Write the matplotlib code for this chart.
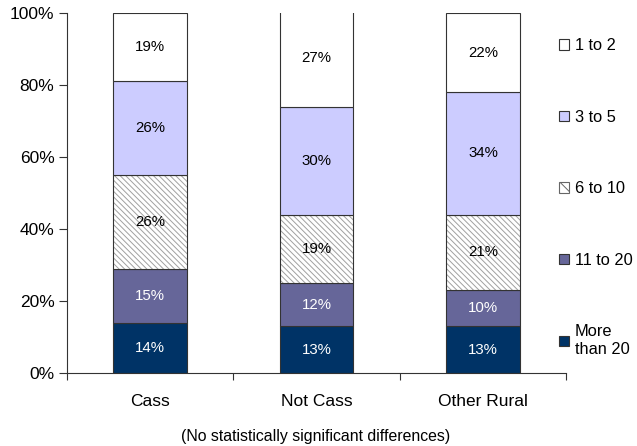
import matplotlib
matplotlib.use("Agg")
import matplotlib.pyplot as plt
from matplotlib.ticker import FixedLocator, PercentFormatter
import numpy as np

plt.rcParams['font.family'] = ['Liberation Sans', 'DejaVu Sans']
plt.rcParams['hatch.linewidth'] = 0.7

# share of respondents by group size, bottom segment first
groups = ["Cass", "Not Cass", "Other Rural"]
sizes = ["More\nthan 20", "11 to 20", "6 to 10", "3 to 5", "1 to 2"]
more_than_20 = [14, 13, 13]
from_11_to_20 = [15, 12, 10]
from_6_to_10 = [26, 19, 21]
from_3_to_5 = [26, 30, 34]
from_1_to_2 = [19, 27, 22]

series = [more_than_20, from_11_to_20, from_6_to_10, from_3_to_5, from_1_to_2]
fills = ["#003366", "#666699", "white", "#ccccff", "white"]
text_colors = ["white", "white", "black", "black", "black"]
hatch = "\\" * 6

fig = plt.figure(figsize=(6.37, 4.46), dpi=100)
ax = fig.add_axes([0.105, 0.1637, 0.784, 0.8073])

x = np.arange(len(groups))
width = 0.44
bottom = np.zeros(len(groups))
handles = []
for i, vals in enumerate(series):
    vals = np.array(vals, dtype=float)
    if i == 2:
        # hatched segment: gray stripes, then a dark outline on top
        ax.bar(x, vals, width, bottom=bottom, color="white", hatch=hatch,
               edgecolor="#a0a0a0", linewidth=0)
        ax.bar(x, vals, width, bottom=bottom, fill=False,
               edgecolor="#333333", linewidth=0.8)
        handles.append(plt.Rectangle((0, 0), 1, 1, facecolor="white",
                                     hatch="\\\\\\", edgecolor="#666666", linewidth=0.8))
    else:
        ax.bar(x, vals, width, bottom=bottom, color=fills[i],
               edgecolor="#333333", linewidth=0.8)
        handles.append(plt.Rectangle((0, 0), 1, 1, facecolor=fills[i],
                                     edgecolor="#333333", linewidth=0.8))
    for xi, b, v in zip(x, bottom, vals):
        ax.text(xi, b + v / 2, f"{v:.0f}%", ha="center", va="center",
                fontsize=10.8, color=text_colors[i])
    bottom += vals

ax.set_xlim(-0.5, 2.5)
ax.set_ylim(0, 100)
ax.yaxis.set_major_locator(FixedLocator([0, 20, 40, 60, 80, 100]))
ax.yaxis.set_major_formatter(PercentFormatter(decimals=0))
ax.set_xticks(x)
ax.set_xticklabels(groups)
ax.set_xticks([-0.5, 0.5, 1.5, 2.5], minor=True)
ax.tick_params(axis="x", which="major", length=0, pad=15, labelsize=12.5)
ax.tick_params(axis="x", which="minor", length=5, width=0.8, color="#333333")
ax.tick_params(axis="y", length=6, width=0.8, color="#333333", labelsize=12.5, pad=3)
for side in ["top", "right"]:
    ax.spines[side].set_visible(False)
for side in ["left", "bottom"]:
    ax.spines[side].set_color("#333333")
    ax.spines[side].set_linewidth(0.8)

ax.legend(handles[::-1], sizes[::-1], loc="upper left",
          bbox_to_anchor=(0.986, 0.93), frameon=False, fontsize=11.8,
          handlelength=0.6, handleheight=0.6, handletextpad=0.35,
          labelspacing=3.45, borderaxespad=0, borderpad=0)

fig.text(0.496, 0.022, "(No statistically significant differences)",
         ha="center", va="center", fontsize=11.4)

fig.savefig("out.png", dpi=100)
